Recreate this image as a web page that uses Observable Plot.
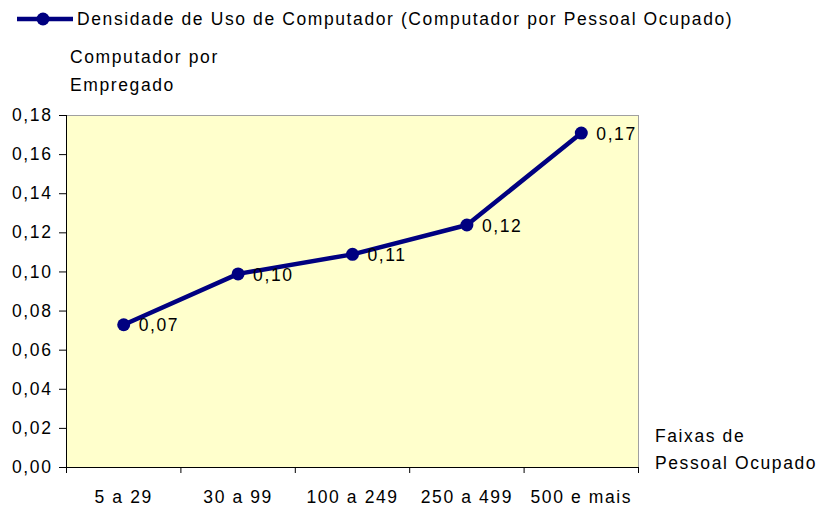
<!DOCTYPE html>
<html>
<head>
<meta charset="utf-8">
<script src="https://cdn.jsdelivr.net/npm/d3@7"></script>
<script src="https://cdn.jsdelivr.net/npm/@observablehq/plot@0.6"></script>
<style>
  html, body { margin: 0; padding: 0; background: white; }
  svg text { letter-spacing: 1.6px; }
</style>
</head>
<body>
<div id="chart"></div>
<script>
const categories = ["5 a 29", "30 a 99", "100 a 249", "250 a 499", "500 e mais"];
const values = [0.073, 0.099, 0.109, 0.124, 0.171];
const valueLabels = ["0,07", "0,10", "0,11", "0,12", "0,17"];
const yTicks = [0, 0.02, 0.04, 0.06, 0.08, 0.10, 0.12, 0.14, 0.16, 0.18];
const seriesName = "Densidade de Uso de Computador (Computador por Pessoal Ocupado)";
const yTitle = ["Computador por", "Empregado"];
const xTitle = ["Faixas de", "Pessoal Ocupado"];

const data = categories.map((c, i) => ({pos: i + 0.5, cat: c, v: values[i], label: valueLabels[i]}));
const boundaries = d3.range(categories.length + 1);
const navy = "#000080";
const fs = 17.5;

const chart = Plot.plot({
  width: 819, height: 508,
  marginLeft: 66, marginRight: 181, marginTop: 115, marginBottom: 41,
  x: {domain: [0, categories.length], axis: null},
  y: {domain: [0, 0.18], axis: null},
  style: {fontFamily: "'Liberation Sans', Arial, sans-serif", fontSize: fs + "px", color: "black", background: "white"},
  marks: [
    Plot.frame({fill: "#ffffcc", stroke: "#a0a0a0"}),
    Plot.axisY({ticks: yTicks, tickFormat: d => d.toFixed(2).replace(".", ","), tickSize: 7, tickPadding: 7, label: null, fontSize: fs}),
    Plot.axisX({ticks: boundaries, tickFormat: () => "", tickSize: 6, label: null}),
    Plot.axisX({ticks: data.map(d => d.pos), tickFormat: d => categories[Math.floor(d)], tickSize: 0, tickPadding: 23, label: null, fontSize: fs}),
    Plot.ruleX([0], {stroke: "black"}),
    Plot.ruleY([0], {stroke: "black"}),
    Plot.line(data, {x: "pos", y: "v", stroke: navy, strokeWidth: 4.5}),
    Plot.dot(data, {x: "pos", y: "v", r: 6.5, fill: navy, stroke: "none"}),
    Plot.text(data, {x: "pos", y: "v", text: "label", textAnchor: "start", dx: 15, dy: 1, fontSize: fs, fill: "black"})
  ]
});
document.getElementById("chart").appendChild(chart);

const svg = d3.select(chart);
const font = "'Liberation Sans', Arial, sans-serif";
const lg = svg.append("g").attr("text-anchor", "start");
lg.append("line").attr("x1", 17).attr("x2", 73).attr("y1", 19).attr("y2", 19).attr("stroke", navy).attr("stroke-width", 4.5);
lg.append("circle").attr("cx", 43).attr("cy", 19).attr("r", 6.5).attr("fill", navy);
lg.append("text").attr("x", 77).attr("y", 25).attr("font-family", font).attr("font-size", fs).attr("fill", "black").text(seriesName);

const tg = svg.append("g").attr("font-family", font).attr("font-size", fs).attr("fill", "black").attr("text-anchor", "start");
tg.append("text").attr("x", 70).attr("y", 63).text(yTitle[0]);
tg.append("text").attr("x", 70).attr("y", 91).text(yTitle[1]);
tg.append("text").attr("x", 655).attr("y", 442).text(xTitle[0]);
tg.append("text").attr("x", 655).attr("y", 469).text(xTitle[1]);
</script>
</body>
</html>
